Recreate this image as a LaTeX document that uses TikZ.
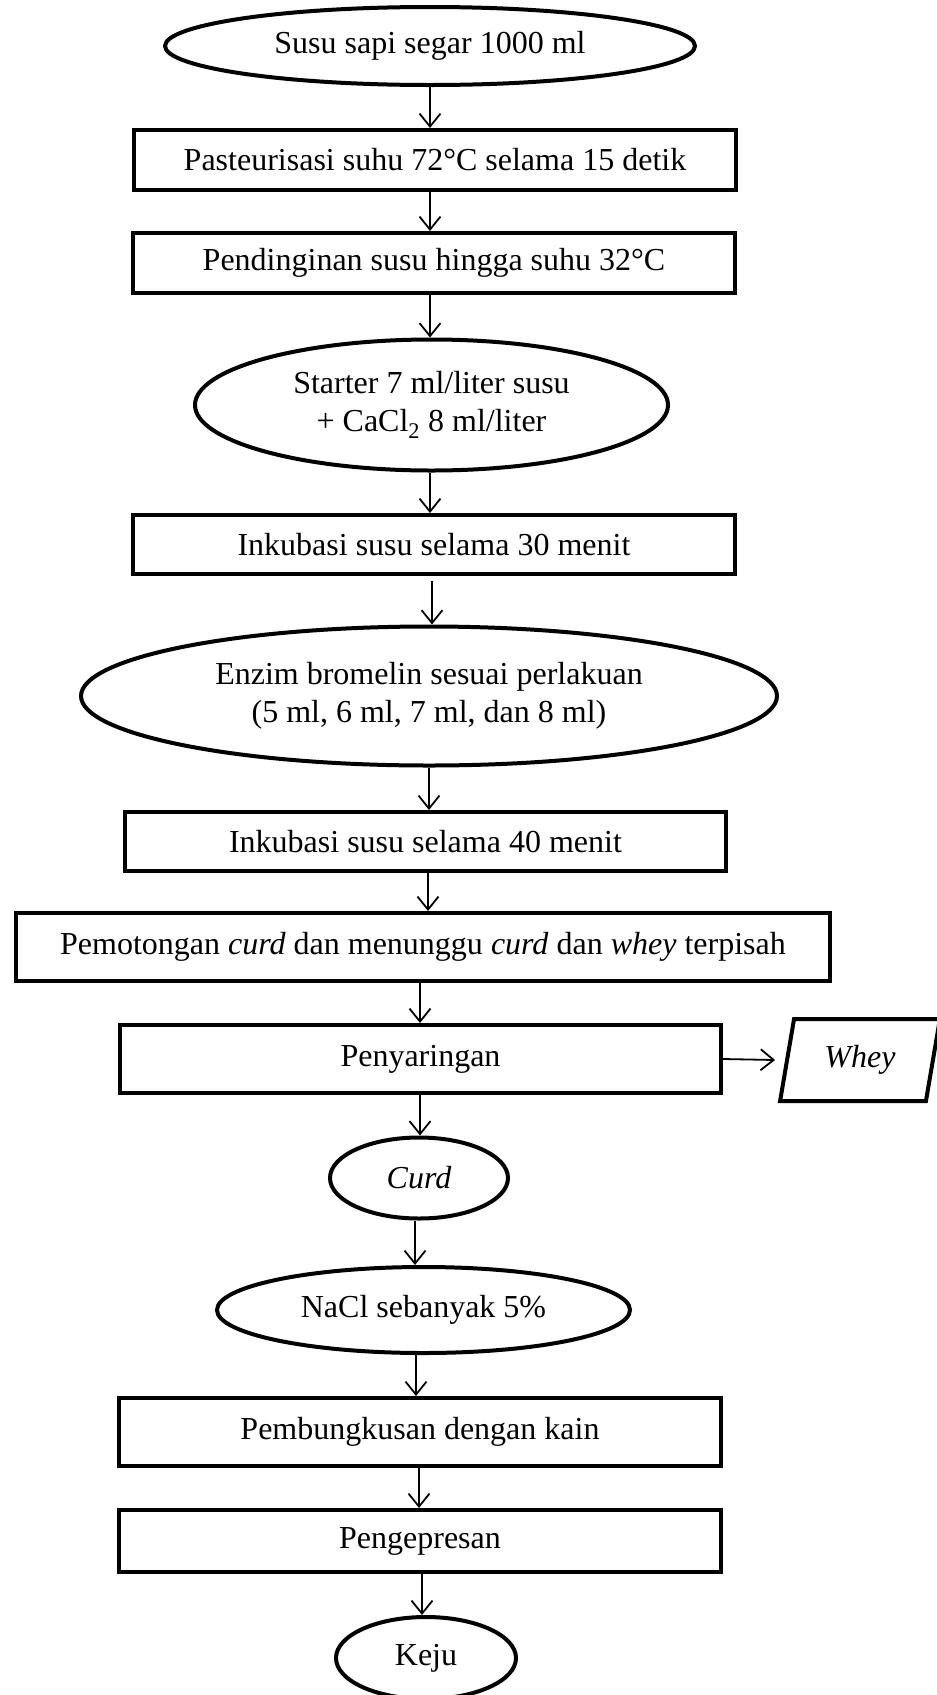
\documentclass[tikz,border=0pt]{standalone}
\usepackage{fontspec}
\setmainfont{Liberation Serif}
\usetikzlibrary{shapes.geometric,arrows.meta}
\begin{document}
\begin{tikzpicture}[x=1pt,y=-1pt,
  every node/.style={font=\fontsize{32}{38}\selectfont, inner sep=0pt, align=center},
  procbox/.style={draw, line width=4pt, rectangle},
  oval/.style={draw, line width=4pt, ellipse},
  iobox/.style={draw, line width=4pt, trapezium, trapezium left angle=75.5, trapezium right angle=104.5, trapezium stretches=true},
  arr/.style={line width=1.8pt, -{Straight Barb[length=13pt,width=21pt,line width=1.8pt]}}]
\useasboundingbox (0,0) rectangle (937,1695);
\node[oval, minimum width=530, minimum height=78] (e1) at (430,46) {Susu sapi segar 1000 ml};
\node[procbox, minimum width=602, minimum height=60] (pas) at (435,160) {Pasteurisasi suhu 72°C selama 15 detik};
\node[procbox, minimum width=602, minimum height=60] (pend) at (434,263) {Pendinginan susu hingga suhu 32°C};
\node[oval, minimum width=473, minimum height=131] (starter) at (431.5,405) {Starter 7 ml/liter susu\\+ CaCl\textsubscript{2} 8 ml/liter};
\node[procbox, minimum width=602, minimum height=59] (ink30) at (434,544.5) {Inkubasi susu selama 30 menit};
\node[oval, minimum width=696, minimum height=139] (enzim) at (429,696) {Enzim bromelin sesuai perlakuan\\(5 ml, 6 ml, 7 ml, dan 8 ml)};
\node[procbox, minimum width=601, minimum height=59] (ink40) at (425.5,841.5) {Inkubasi susu selama 40 menit};
\node[procbox, minimum width=814, minimum height=68] (pem) at (423,947) {Pemotongan \textit{curd} dan menunggu \textit{curd} dan \textit{whey} terpisah};
\node[procbox, minimum width=601, minimum height=68] (peny) at (420.5,1059) {Penyaringan};
\node[iobox, minimum width=160, minimum height=82] (whey) at (860,1060) {\textit{Whey}};
\node[oval, minimum width=178, minimum height=81] (curd) at (419,1178) {\textit{Curd}};
\node[oval, minimum width=413, minimum height=86] (nacl) at (423.5,1310) {NaCl sebanyak 5\%};
\node[procbox, minimum width=602, minimum height=68] (pemb) at (420,1432) {Pembungkusan dengan kain};
\node[procbox, minimum width=602, minimum height=62] (peng) at (420,1541) {Pengepresan};
\node[oval, minimum width=180, minimum height=82] (keju) at (426,1658) {Keju};
\coordinate (xa) at (430,0);
\coordinate (xb) at (432,0);
\coordinate (xc) at (429,0);
\coordinate (xd) at (428,0);
\coordinate (xe) at (420,0);
\coordinate (xf) at (415,0);
\coordinate (xg) at (416,0);
\coordinate (xh) at (419,0);
\coordinate (xi) at (422,0);
\draw[arr] (e1.south -| xa) -- (pas.north -| xa);
\draw[arr] (pas.south -| xa) -- (pend.north -| xa);
\draw[arr] (pend.south -| xa) -- (starter.north -| xa);
\draw[arr] (starter.south -| xa) -- (ink30.north -| xa);
\draw[arr] ([yshift=-5pt]ink30.south -| xb) -- (enzim.north -| xb);
\draw[arr] (enzim.south -| xc) -- (ink40.north -| xc);
\draw[arr] (ink40.south -| xd) -- (pem.north -| xd);
\draw[arr] (pem.south -| xe) -- (peny.north -| xe);
\draw[arr] (peny.east) -- ([xshift=-10pt]whey.west);
\draw[arr] (peny.south -| xe) -- (curd.north -| xe);
\draw[arr] (curd.south -| xf) -- (nacl.north -| xf);
\draw[arr] (nacl.south -| xg) -- (pemb.north -| xg);
\draw[arr] (pemb.south -| xh) -- (peng.north -| xh);
\draw[arr] (peng.south -| xi) -- (keju.north -| xi);
\end{tikzpicture}
\end{document}
